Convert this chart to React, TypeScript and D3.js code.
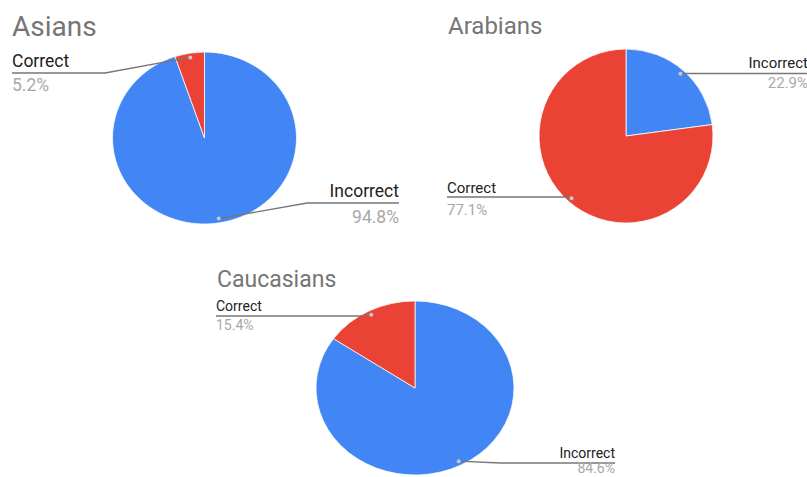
import React from "react";
import * as d3 from "d3";

const categories = ["Incorrect", "Correct"];
const titles = ["Asians", "Arabians", "Caucasians"];
const asiansValues = [94.8, 5.2];
const arabiansValues = [22.9, 77.1];
const caucasiansValues = [84.6, 15.4];
const percentLabels = [
  ["94.8%", "5.2%"],
  ["22.9%", "77.1%"],
  ["84.6%", "15.4%"],
];
const seriesValues = [asiansValues, arabiansValues, caucasiansValues];

const colors = ["#4285f4", "#ea4335"];

type LabelLayout = {
  side: "left" | "right";
  textX: number;
  baseline: number;
  lineY: number;
  elbowX?: number;
  pctBaseline: number;
};

type ChartLayout = {
  cx: number;
  cy: number;
  rx: number;
  ry: number;
  titleX: number;
  titleY: number;
  titleSize: number;
  labelSize: number;
  labels: LabelLayout[];
};

const layouts: ChartLayout[] = [
  {
    cx: 204.5, cy: 138, rx: 92, ry: 86,
    titleX: 12, titleY: 36, titleSize: 28, labelSize: 17.5,
    labels: [
      { side: "right", textX: 399, baseline: 197, lineY: 203, elbowX: 307, pctBaseline: 223 },
      { side: "left", textX: 12, baseline: 67, lineY: 73, elbowX: 105, pctBaseline: 91 },
    ],
  },
  {
    cx: 626, cy: 136, rx: 87, ry: 87,
    titleX: 448, titleY: 34, titleSize: 24, labelSize: 15,
    labels: [
      { side: "right", textX: 808, baseline: 68, lineY: 73.5, pctBaseline: 88 },
      { side: "left", textX: 447, baseline: 193, lineY: 197, pctBaseline: 215 },
    ],
  },
  {
    cx: 415, cy: 388, rx: 99, ry: 87,
    titleX: 217, titleY: 287, titleSize: 23, labelSize: 14,
    labels: [
      { side: "right", textX: 615, baseline: 458, lineY: 463, elbowX: 500, pctBaseline: 473 },
      { side: "left", textX: 216, baseline: 311, lineY: 316, elbowX: 360, pctBaseline: 330 },
    ],
  },
];

const font = "Roboto, Arial, sans-serif";

function PieChart({ idx }: { idx: number }) {
  const L = layouts[idx];
  const values = seriesValues[idx];
  const pie = d3.pie<number>().sort(null).value((d) => d)(values);
  const arc = d3.arc<d3.PieArcDatum<number>>().innerRadius(0).outerRadius(L.rx);
  const sy = L.ry / L.rx;
  return (
    <g>
      <text x={L.titleX} y={L.titleY} fontFamily={font} fontSize={L.titleSize} fill="#757575">
        {titles[idx]}
      </text>
      <g transform={`translate(${L.cx},${L.cy}) scale(1,${sy})`}>
        {pie.map((p, i) => (
          <path key={i} d={arc(p) || ""} fill={colors[i]} stroke="#ffffff" strokeWidth={0.8} />
        ))}
      </g>
      {pie.map((p, i) => {
        const mid = (p.startAngle + p.endAngle) / 2;
        const dx = L.cx + 0.95 * L.rx * Math.sin(mid);
        const dy = L.cy - 0.95 * L.ry * Math.cos(mid);
        const lab = L.labels[i];
        const elbow = lab.elbowX !== undefined ? lab.elbowX : dx;
        const pathD = `M${lab.textX},${lab.lineY}L${elbow},${lab.lineY}L${dx},${dy}`;
        const anchor = lab.side === "left" ? "start" : "end";
        return (
          <g key={i}>
            <path d={pathD} fill="none" stroke="#777" strokeWidth={1.4} />
            <circle cx={dx} cy={dy} r={2} fill="#c8c8c8" />
            <text x={lab.textX} y={lab.baseline} textAnchor={anchor} fontFamily={font}
              fontSize={L.labelSize} fill="#222">
              {categories[i]}
            </text>
            <text x={lab.textX} y={lab.pctBaseline} textAnchor={anchor} fontFamily={font}
              fontSize={L.labelSize} fill="#a8a8a8">
              {percentLabels[idx][i]}
            </text>
          </g>
        );
      })}
    </g>
  );
}

export default function App() {
  return (
    <svg width={807} height={477} style={{ position: "absolute", left: 0, top: 0, background: "#fff" }}>
      <rect width={807} height={477} fill="#fff" />
      {layouts.map((_, i) => (
        <PieChart key={i} idx={i} />
      ))}
    </svg>
  );
}
